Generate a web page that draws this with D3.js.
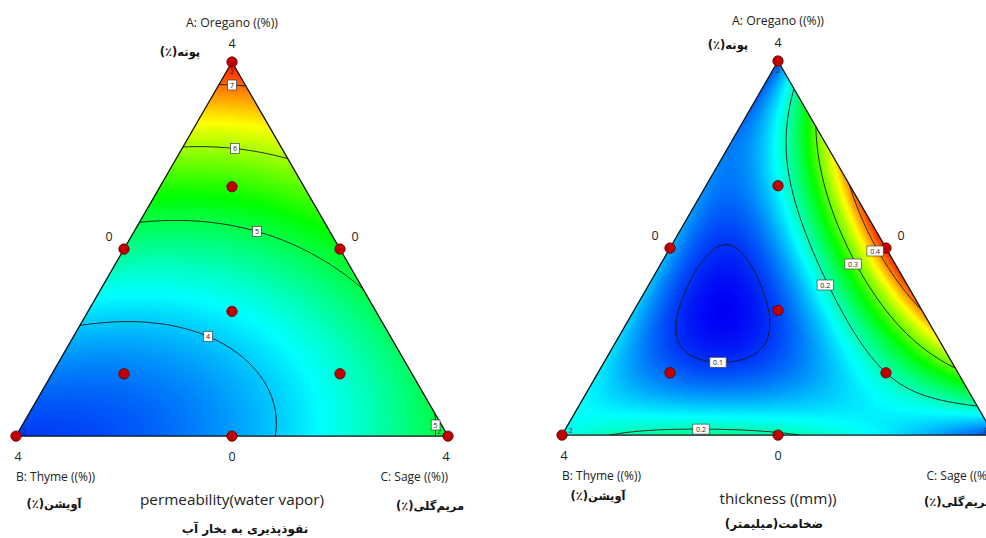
<!DOCTYPE html>
<html>
<head>
<meta charset="utf-8">
<script src="https://cdn.jsdelivr.net/npm/d3@7"></script>
<style>
  body { margin: 0; background: #fff; }
  svg { display: block; }
  .lat { font-family: "Open Sans", "Noto Sans", sans-serif; fill: #222; }
  .fa { font-family: "DejaVu Sans", sans-serif; font-weight: bold; fill: #111; }
</style>
</head>
<body>
<svg width="986" height="538"></svg>
<script>
const width = 986;
const height = 538;

// components (vertex order A, B, C)
const componentLabels = ["A: Oregano ((%))", "B: Thyme ((%))", "C: Sage ((%))"];
const componentFa = ["پونه(٪)", "آویشن(٪)", "مریم\u200cگلی(٪)"];
const vertexTicks = ["4", "4", "4"];
const edgeTicks = ["0", "0", "0"];   // AB, AC, BC mid points

// design points, mixture fractions
const designA = [1, 0, 0, 0.5, 0.5, 0, 1/3, 2/3, 1/6, 1/6];
const designB = [0, 1, 0, 0.5, 0, 0.5, 1/3, 1/6, 2/3, 1/6];
const designC = [0, 0, 1, 0, 0.5, 0.5, 1/3, 1/6, 1/6, 2/3];
const replicated = [0, 1, 2];

// fitted mixture model terms:
// A, B, C, AB, AC, BC, BC(B-C), A2BC, AB2C, ABC2
const permCoef = [7.4, 3.4, 5.1, -2.8, -4.2, -1.75, 0, -2.9, -2.9, -2.9];
const permLevels = [4, 5, 6, 7];
const thickCoef = [0.11, 0.18, 0.105, 0, 1.32, 0.252, 0.045, -5.74, -5.885, -4.42];
const thickLevels = [0.1, 0.2, 0.3, 0.4];

const palette = ["#0000f5", "#00ffff", "#00ff00", "#ffff00", "#ff0000"];

const charts = [
  {id: "perm", ax: 232, ay: 62, side: 432, coef: permCoef, levels: permLevels, colorPad: [0.25, 0.05],
   title: "permeability(water vapor)", titleFa: "نفوذپذیری به بخار آب",
   pos: {aTitle: [232, 27], aFa: [180, 56], title: [232, 505], titleFa: [245, 533], bFa: [54, 508], cFa: [430, 510]}},
  {id: "thick", ax: 778, ay: 61, side: 432, coef: thickCoef, levels: thickLevels, colorPad: [0, 0.012],
   title: "thickness ((mm))", titleFa: "ضخامت(میلیمتر)",
   pos: {aTitle: [778, 25], aFa: [728, 49], title: [778, 504], titleFa: [774, 528], bFa: [598, 500], cFa: [958, 506]}}
];

const svg = d3.select("svg");
const defs = svg.append("defs");

charts.forEach(drawChart);

function drawChart(cfg) {
  const h = cfg.side * Math.sqrt(3) / 2;
  const toXY = (a, b, c) => [cfg.ax + cfg.side * (c - b) / 2, cfg.ay + h * (1 - a)];
  const toABC = (x, y) => {
    const a = 1 - (y - cfg.ay) / h;
    const d = 2 * (x - cfg.ax) / cfg.side;
    return [a, (1 - a - d) / 2, (1 - a + d) / 2];
  };
  const k = cfg.coef;
  const model = (a, b, c) =>
    k[0]*a + k[1]*b + k[2]*c + k[3]*a*b + k[4]*a*c + k[5]*b*c + k[6]*b*c*(b - c)
    + a*b*c*(k[7]*a + k[8]*b + k[9]*c);

  const verts = [toXY(1, 0, 0), toXY(0, 1, 0), toXY(0, 0, 1)];
  const g = svg.append("g");

  defs.append("clipPath").attr("id", "clip-" + cfg.id)
    .append("path").attr("d", "M" + verts.join("L") + "Z");

  // value grid
  const pad = 4;
  const x0 = cfg.ax - cfg.side / 2 - pad, y0 = cfg.ay - pad;
  const nx = Math.ceil(cfg.side + 2 * pad) + 1, ny = Math.ceil(h + 2 * pad) + 1;
  const values = new Array(nx * ny);
  let lo = Infinity, hi = -Infinity;
  for (let j = 0; j < ny; j++) {
    for (let i = 0; i < nx; i++) {
      const [a, b, c] = toABC(x0 + i, y0 + j);
      const v = model(a, b, c);
      values[j * nx + i] = v;
      if (a >= 0 && b >= 0 && c >= 0) { lo = Math.min(lo, v); hi = Math.max(hi, v); }
    }
  }
  lo -= cfg.colorPad[0]; hi += cfg.colorPad[1];

  const color = d3.scaleLinear()
    .domain(d3.range(palette.length).map(i => lo + i * (hi - lo) / (palette.length - 1)))
    .range(palette).clamp(true);
  const lut = d3.range(256).map(i => d3.rgb(color(lo + i / 255 * (hi - lo))));

  const canvas = document.createElement("canvas");
  canvas.width = nx; canvas.height = ny;
  const ctx = canvas.getContext("2d");
  const img = ctx.createImageData(nx, ny);
  for (let p = 0; p < nx * ny; p++) {
    let t = Math.round((values[p] - lo) / (hi - lo) * 255);
    t = Math.max(0, Math.min(255, t));
    const col = lut[t];
    img.data[4*p] = col.r; img.data[4*p+1] = col.g; img.data[4*p+2] = col.b; img.data[4*p+3] = 255;
  }
  ctx.putImageData(img, 0, 0);

  g.append("image")
    .attr("x", x0 - 0.5).attr("y", y0 - 0.5)
    .attr("width", nx).attr("height", ny)
    .attr("preserveAspectRatio", "none")
    .attr("href", canvas.toDataURL())
    .attr("clip-path", "url(#clip-" + cfg.id + ")");

  // contour lines
  const contours = d3.contours().size([nx, ny]).thresholds(cfg.levels)(values);
  const px = p => [x0 + p[0] - 0.5, y0 + p[1] - 0.5];
  const isIn = p => { const [a, b, c] = toABC(p[0], p[1]); return a > 0.003 && b > 0.003 && c > 0.003; };
  const line = d3.line();

  const lineG = g.append("g").attr("clip-path", "url(#clip-" + cfg.id + ")");
  const labels = [];

  contours.forEach(ct => {
    ct.coordinates.forEach(poly => poly.forEach(ring => {
      const pts = ring.map(px);
      lineG.append("path")
        .attr("d", line(pts))
        .attr("fill", "none")
        .attr("stroke", "#1a1a1a")
        .attr("stroke-width", 0.9);

      // pieces of the ring that lie inside the triangle, for labels
      const inside = pts.map(isIn);
      if (inside.every(d => d)) {
        labels.push({value: ct.value, at: pts.reduce((m, p) => p[1] > m[1] ? p : m)});
        return;
      }
      const s = inside.indexOf(false);
      const rot = pts.slice(s).concat(pts.slice(0, s));
      const rin = inside.slice(s).concat(inside.slice(0, s));
      let run = [];
      const flush = () => {
        if (run.length > 1) {
          const segs = d3.pairs(run).map(([p, q]) => Math.hypot(q[0] - p[0], q[1] - p[1]));
          const len = d3.sum(segs);
          if (len > 14) {
            let acc = 0, idx = 0;
            while (idx < segs.length && acc + segs[idx] < len / 2) { acc += segs[idx]; idx++; }
            labels.push({value: ct.value, at: run[Math.min(idx, run.length - 1)]});
          }
        }
        run = [];
      };
      rot.forEach((p, i) => { if (rin[i]) run.push(p); else flush(); });
      flush();
    }));
  });

  // triangle outline
  g.append("path")
    .attr("d", "M" + verts.join("L") + "Z")
    .attr("fill", "none")
    .attr("stroke", "#111")
    .attr("stroke-width", 1.3);

  // replicate counts next to vertices
  replicated.forEach(i => {
    const a = designA[i] * 0.96 + 0.04 / 3, b = designB[i] * 0.96 + 0.04 / 3, c = designC[i] * 0.96 + 0.04 / 3;
    const [x, y] = toXY(a, b, c);
    g.append("text").attr("class", "lat")
      .attr("x", x).attr("y", y + 2.5)
      .attr("text-anchor", "middle").attr("font-size", 7).attr("fill", "#333")
      .text("2");
  });

  // design points
  g.selectAll("circle.pt").data(designA.map((a, i) => toXY(a, designB[i], designC[i])))
    .enter().append("circle")
    .attr("class", "pt")
    .attr("cx", d => d[0]).attr("cy", d => d[1])
    .attr("r", 5.2)
    .attr("fill", "#c00000")
    .attr("stroke", "#5a0000")
    .attr("stroke-width", 0.8);

  // contour labels (on top)
  labels.forEach(l => {
    const txt = String(l.value);
    const w = txt.length * 3.8 + 5;
    const lg = g.append("g").attr("transform", "translate(" + (l.at[0] - (txt.length > 1 ? 3 : 0)) + "," + l.at[1] + ")");
    lg.append("rect")
      .attr("x", -w / 2).attr("y", -5).attr("width", w).attr("height", 10)
      .attr("fill", "#fff").attr("stroke", "#444").attr("stroke-width", 0.7);
    lg.append("text")
      .attr("class", "lat")
      .attr("text-anchor", "middle").attr("y", 2.6)
      .attr("font-size", 7)
      .text(txt);
  });

  // tick labels
  const tick = (x, y, t) => g.append("text").attr("class", "lat")
    .attr("x", x).attr("y", y).attr("text-anchor", "middle").attr("font-size", 12.5).text(t);
  tick(verts[0][0], verts[0][1] - 14, vertexTicks[0]);
  tick(verts[1][0] + 2, verts[1][1] + 25, vertexTicks[1]);
  tick(verts[2][0] - 2, verts[2][1] + 25, vertexTicks[2]);
  const mAB = toXY(0.5, 0.5, 0), mAC = toXY(0.5, 0, 0.5), mBC = toXY(0, 0.5, 0.5);
  tick(mAB[0] - 15, mAB[1] - 8, edgeTicks[0]);
  tick(mAC[0] + 15, mAC[1] - 8, edgeTicks[1]);
  tick(mBC[0], mBC[1] + 25, edgeTicks[2]);

  // component names
  const P = cfg.pos;
  g.append("text").attr("class", "lat").attr("x", P.aTitle[0]).attr("y", P.aTitle[1])
    .attr("text-anchor", "middle").attr("font-size", 12.3).text(componentLabels[0]);
  g.append("text").attr("class", "lat").attr("x", verts[1][0]).attr("y", verts[1][1] + 45)
    .attr("text-anchor", "start").attr("font-size", 12).text(componentLabels[1]);
  g.append("text").attr("class", "lat").attr("x", verts[2][0]).attr("y", verts[2][1] + 45)
    .attr("text-anchor", "end").attr("font-size", 12).text(componentLabels[2]);

  const fa = (xy, t, size) => g.append("text").attr("class", "fa")
    .attr("x", xy[0]).attr("y", xy[1]).attr("direction", "rtl")
    .attr("text-anchor", "middle").attr("font-size", size).text(t);
  fa(P.aFa, componentFa[0], 11.5);
  fa(P.bFa, componentFa[1], 11.5);
  fa(P.cFa, componentFa[2], 11.5);

  // response title
  g.append("text").attr("class", "lat").attr("x", P.title[0]).attr("y", P.title[1])
    .attr("text-anchor", "middle").attr("font-size", 15.3).text(cfg.title);
  fa(P.titleFa, cfg.titleFa, 12);
}
</script>
</body>
</html>
